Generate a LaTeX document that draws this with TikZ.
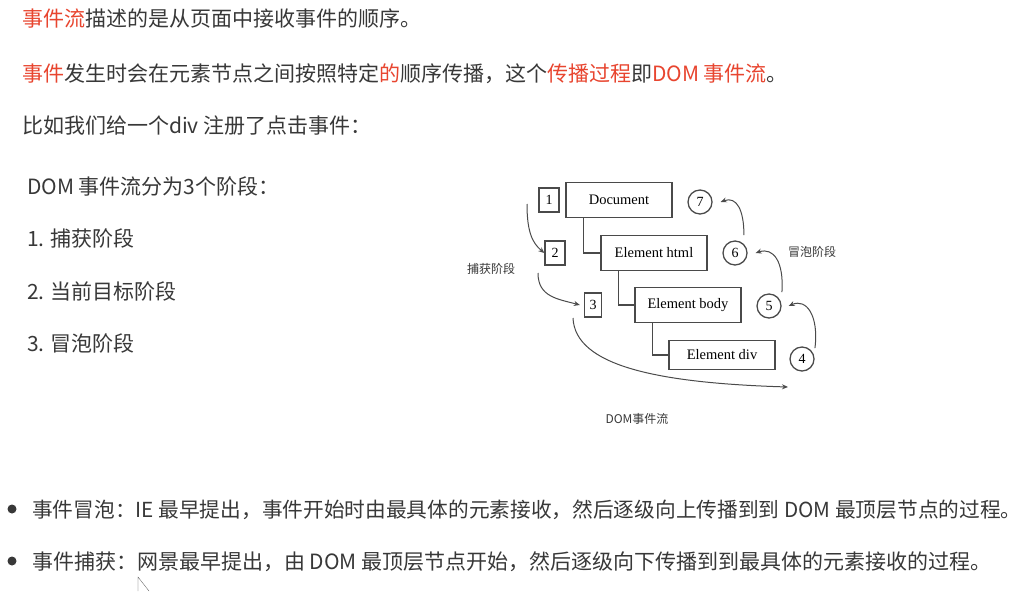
\documentclass[tikz,border=0pt]{standalone}
\usepackage{fontspec}
\setmainfont{Liberation Serif}
\newfontfamily\cjk{Noto Sans CJK SC}
\usetikzlibrary{arrows.meta,positioning}
\definecolor{evred}{HTML}{E8452F}
\definecolor{evtext}{HTML}{383838}
\definecolor{evline}{HTML}{4A4A4A}
\newcommand\hl[1]{\textcolor{evred}{#1}}
\tikzset{
        para/.style={anchor=west, inner sep=0pt, text=evtext, font=\cjk\fontsize{21}{24}\selectfont},
        numbox/.style={draw=evline, line width=0.45mm, minimum width=20pt, minimum height=24pt, inner sep=0pt, font=\fontsize{14}{16}\selectfont},
        elem/.style={draw=evline, line width=0.45mm, minimum width=106pt, minimum height=35pt, inner sep=0pt, font=\fontsize{14.5}{16}\selectfont},
        numcirc/.style={circle, draw=evline, line width=0.45mm, minimum size=24pt, inner sep=0pt, font=\fontsize{14}{16}\selectfont},
        flow/.style={draw=evline, line width=0.35mm, -{Stealth[length=6pt,width=5pt]}},
        tree/.style={draw=evline, line width=0.45mm},
        tag/.style={inner sep=0pt, text=evtext, font=\cjk\fontsize{12}{14}\selectfont}
          }
\begin{document}
\begin{tikzpicture}[x=1pt,y=-1pt]
        \useasboundingbox[fill=white] (0,0) rectangle (1032,591);
        % text above
        \node[para] (intro) at (22,19) {\hl{事件流}描述的是从页面中接收事件的顺序。};
        \node[para] (prop) at (22,74) {\hl{事件}发生时会在元素节点之间按照特定\hl{的}顺序传播，这个\hl{传播过程}即\hl{DOM 事件流}。};
        \node[para] (example) at (22,126) {比如我们给一个div 注册了点击事件：};
        \node[para] (phases) at (27,186) {DOM 事件流分为3个阶段：};
        \node[para] (ph1) at (27,238) {1. 捕获阶段};
        \node[para] (ph2) at (27,291) {2. 当前目标阶段};
        \node[para] (ph3) at (27,343) {3. 冒泡阶段};
        % the flow diagram
        \node[elem] (doc) at (619,200) {Document};
        \node[elem] (html) at (654,253) {Element html};
        \node[elem] (body) at (688,305) {Element body};
        \node[elem, minimum height=29pt] (div) at (722,355) {Element div};
        \draw[tree] ([xshift=18pt]doc.south west) |- (html.west);
        \draw[tree] ([xshift=18pt]html.south west) |- (body.west);
        \draw[tree] ([xshift=18pt]body.south west) |- (div.west);
        \node[numbox] (n1) at (549,200) {1};
        \node[numbox] (n2) at (555,253) {2};
        \node[numbox, minimum width=17pt] (n3) at (593,305) {3};
        \node[numcirc] (c7) at (700,202) {7};
        \node[numcirc] (c6) at (735,253) {6};
        \node[numcirc] (c5) at (769,306) {5};
        \node[numcirc] (c4) at (802,359) {4};
        \coordinate (capA) at (527,204);
        \coordinate (capB) at (538,273);
        \coordinate (capC) at (573,318);
        \coordinate (capEnd) at (788,387);
        \draw[flow] (capA) .. controls +(0,28) and +(-12,-10) .. (n2.west);
        \draw[flow] (capB) .. controls +(0,24) and +(-22,-6) .. ([xshift=-4pt]n3.west);
        \draw[flow] (capC) .. controls +(2,48) and +(-130,-4) .. (capEnd);
        \draw[flow] ([shift={(4,-2)}]c4.north east) .. controls +(4,-32) and +(18,-8) .. ([xshift=7pt]c5.east);
        \draw[flow] ([shift={(4,-5)}]c5.north east) .. controls +(2,-30) and +(18,-6) .. ([xshift=8pt]c6.east);
        \draw[flow] ([shift={(0,-9)}]c6.north east) .. controls +(0,-25) and +(16,-6) .. ([xshift=8pt]c7.east);
        \node[tag] (capture) at (491,269) {捕获阶段};
        \node[tag] (bubble) at (812,252) {冒泡阶段};
        \node[tag] (flowname) at (637,419) {DOM事件流};
        % bullets below
        \fill[evtext] (12,509) circle (4.5);
        \fill[evtext] (12,561) circle (4.5);
        \node[para, font=\cjk\fontsize{20.7}{24}\selectfont] (bub) at (32,510) {事件冒泡：IE 最早提出，事件开始时由最具体的元素接收，然后逐级向上传播到到 DOM 最顶层节点的过程。};
        \node[para] (cap) at (32,562) {事件捕获：网景最早提出，由 DOM 最顶层节点开始，然后逐级向下传播到到最具体的元素接收的过程。};
        % mouse pointer
        \draw[evline, line width=0.3pt] (149,591) -- (138,577) -- (138,591);
      \end{tikzpicture}
\end{document}
